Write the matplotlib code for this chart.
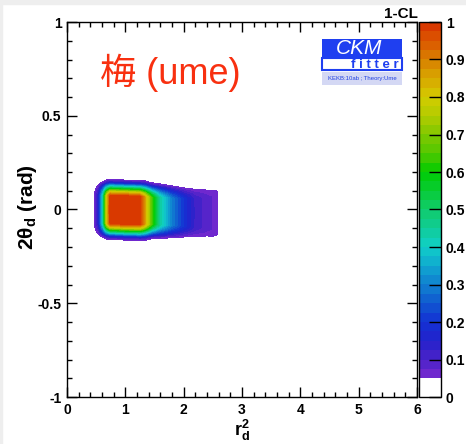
import matplotlib
matplotlib.use("Agg")
import matplotlib.pyplot as plt
import numpy as np
from matplotlib.colors import LinearSegmentedColormap, ListedColormap, BoundaryNorm
from matplotlib.patches import Rectangle

plt.rcParams["font.family"] = ["Liberation Sans", "DejaVu Sans"]
plt.rcParams["font.weight"] = "bold"
plt.rcParams["mathtext.fontset"] = "custom"
plt.rcParams["mathtext.rm"] = "Liberation Sans:bold"
plt.rcParams["mathtext.bf"] = "Liberation Sans:bold"
plt.rcParams["mathtext.it"] = "Liberation Sans:bold"

# 1-CL profile along r_d^2
r2_nodes = [0.40, 0.47, 0.54, 0.62, 0.68, 0.74, 1.00, 1.25, 1.34, 1.45,
            1.59, 1.79, 2.02, 2.19, 2.40, 2.57, 2.60]
peak_cl = [0.00, 0.05, 0.15, 0.45, 0.80, 0.99, 1.00, 0.99, 0.85, 0.65,
           0.45, 0.30, 0.19, 0.12, 0.085, 0.065, 0.00]
# vertical scale and centre of the region in 2theta_d
theta_scale = [0.16, 0.16, 0.16, 0.16, 0.16, 0.16, 0.16, 0.16, 0.16, 0.155,
               0.156, 0.156, 0.155, 0.162, 0.176, 0.198, 0.198]
theta_centre = [0.0, 0.0, 0.0, 0.0, 0.0, 0.0, -0.003, -0.005, -0.006, -0.007,
                -0.009, -0.012, -0.016, -0.018, -0.019, -0.02, -0.02]
# relative fall-off across 2theta_d
u_nodes = [0.0, 0.46, 0.59, 0.71, 0.81, 0.875, 0.95, 1.0, 1.1]
h_nodes = [1.0, 0.995, 0.80, 0.55, 0.33, 0.18, 0.09, 0.05, 0.0]

# colour palette (ROOT-like)
pal_vals = [0.05, 0.10, 0.15, 0.20, 0.25, 0.30, 0.35, 0.40, 0.45, 0.50,
            0.55, 0.60, 0.65, 0.70, 0.75, 0.80, 0.85, 0.90, 0.95, 1.00]
pal_cols = ["#7a2ad0", "#4a22c8", "#2222cc", "#1432d4", "#1058d0", "#1080d0",
            "#10a8d0", "#10d0c8", "#10cc98", "#10cc68", "#08cc38", "#00cc00",
            "#50c800", "#80c800", "#b0cc00", "#d4cc00", "#d8a800", "#d88000",
            "#dc5800", "#d83000"]

# build field
x = np.linspace(0.3, 2.8, 801)
y = np.linspace(-0.35, 0.35, 561)
X, Y = np.meshgrid(x, y)
pk = np.interp(X, r2_nodes, peak_cl)
sc = np.interp(X, r2_nodes, theta_scale)
ce = np.interp(X, r2_nodes, theta_centre)
u = np.abs(Y - ce) / sc
Z = pk * np.interp(u, u_nodes, h_nodes)

# discrete colour bands of 0.025 from 0.05 to 1
bounds = np.concatenate([[0.0], np.arange(0.05, 1.0001, 0.025)])
bounds[-1] = 1.0001
lin = LinearSegmentedColormap.from_list(
    "cl", list(zip((np.array(pal_vals) - 0.05) / 0.95, pal_cols)))
mids = (bounds[1:-1] + bounds[2:]) / 2
band_cols = [lin((m - 0.05) / 0.95) for m in mids]
cmap = ListedColormap(["white"] + band_cols)
norm = BoundaryNorm(bounds, cmap.N)

fig = plt.figure(figsize=(4.66, 4.44), dpi=100)
fig.patch.set_facecolor("white")
fig.patches.append(Rectangle((0, 1 - 4 / 444), 1, 4 / 444, transform=fig.transFigure,
                             color="#eeeeee", zorder=0))
fig.patches.append(Rectangle((0, 0), 2 / 466, 1, transform=fig.transFigure,
                             color="#eeeeee", zorder=0))

ax = fig.add_axes([67 / 466, 47 / 444, 350 / 466, 375 / 444])
cax = fig.add_axes([419 / 466, 47 / 444, 22 / 466, 375 / 444])

cs = ax.contourf(X, Y, Z, levels=bounds, cmap=cmap, norm=norm)

ax.set_xlim(0, 6)
ax.set_ylim(-1, 1)
ax.set_xticks(np.arange(0, 7, 1))
ax.set_xticks(np.arange(0, 6.01, 0.2), minor=True)
ax.set_yticks([-1, -0.5, 0, 0.5, 1])
ax.set_yticks(np.arange(-1, 1.01, 0.1), minor=True)
ax.set_xticklabels(["0", "1", "2", "3", "4", "5", "6"])
ax.set_yticklabels(["-1", "-0.5", "0", "0.5", "1"])
ax.tick_params(which="both", direction="in", top=True, right=True,
               labelsize=10, width=1)
ax.tick_params(which="major", length=7)
ax.tick_params(which="minor", length=3.5)
ax.tick_params(axis="x", pad=4.5)
ax.tick_params(axis="y", pad=4)

ax.set_xlabel(r"$\mathbf{r_d^2}$", fontsize=13)
ax.xaxis.set_label_coords(0.5, -0.056)
ax.set_ylabel(r"2θ$_\mathbf{d}$ (rad)", fontsize=15, fontweight="bold")
ax.yaxis.set_label_coords(-0.08, 0.507)

ax.text(0.094, 0.865, "梅 (ume)", transform=ax.transAxes, fontsize=26,
        fontweight="normal", color="#f83010", va="center", ha="left",
        family=["Liberation Sans", "Noto Sans CJK JP"])

# CKMfitter logo
ax.add_patch(Rectangle((0.729, 0.904), 0.228, 0.051, transform=ax.transAxes,
                       facecolor="#1f3ff0", edgecolor="none", zorder=5))
ax.text(0.834, 0.929, "CKM", transform=ax.transAxes, fontsize=15,
        fontweight="normal", style="italic", color="white", ha="center",
        va="center", zorder=6)
ax.add_patch(Rectangle((0.729, 0.872), 0.228, 0.032, transform=ax.transAxes,
                       facecolor="white", edgecolor="#1f3ff0", lw=1.5, zorder=5))
ax.text(0.948, 0.886, "f i t t e r", transform=ax.transAxes, fontsize=9.5,
        fontweight="bold", color="#1f3ff0", ha="right", va="center", zorder=6)
ax.add_patch(Rectangle((0.729, 0.832), 0.228, 0.034, transform=ax.transAxes,
                       facecolor="#d4d8f4", edgecolor="none", zorder=5))
ax.text(0.843, 0.849, "KEKB:10ab ; Theory:Ume", transform=ax.transAxes,
        fontsize=4.3, fontweight="normal", color="#2040e0", ha="center",
        va="center", zorder=6)

for sp in ax.spines.values():
    sp.set_linewidth(1)

cb = fig.colorbar(cs, cax=cax, spacing="proportional")
cb.set_ticks(np.round(np.arange(0, 1.01, 0.1), 1))
cb.set_ticklabels(["0", "0.1", "0.2", "0.3", "0.4", "0.5", "0.6", "0.7",
                   "0.8", "0.9", "1"])
cax.set_ylim(0, 1)
cax.minorticks_off()
cax.tick_params(direction="in", length=8.5, width=1, labelsize=10, pad=3.5)
cb.outline.set_linewidth(1)

fig.text(418 / 466, 1 - 14.5 / 444, "1-CL", fontsize=11, fontweight="bold",
         ha="right", va="center")

fig.savefig("out.png", dpi=100)
